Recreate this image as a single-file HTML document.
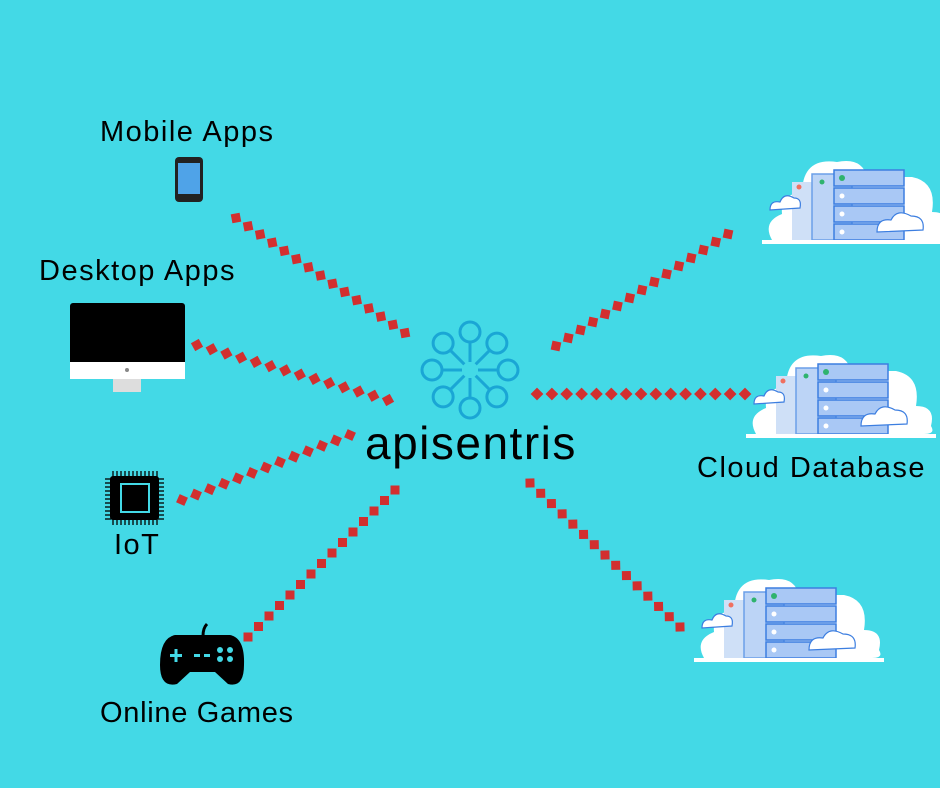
<!DOCTYPE html>
<html><head><meta charset="utf-8"><style>
html,body{margin:0;padding:0}
body{width:940px;height:788px;background:#43d9e6;position:relative;overflow:hidden;font-family:"Liberation Sans",sans-serif}
.l{position:absolute;color:#000;font-size:29px;letter-spacing:1.5px;white-space:nowrap}
</style></head><body>
<div class="l" style="left:100px;top:116px">Mobile Apps</div>
<div class="l" style="left:39px;top:255px">Desktop Apps</div>
<div class="l" style="left:114px;top:529px">IoT</div>
<div class="l" style="left:100px;top:697px;letter-spacing:0.7px">Online Games</div>
<div class="l" style="left:697px;top:452px">Cloud Database</div>
<div class="l" style="left:365px;top:416px;font-size:46px;letter-spacing:1.5px">apisentris</div>
<svg id="s" width="940" height="788" style="position:absolute;left:0;top:0" xmlns="http://www.w3.org/2000/svg">
<defs>
<g id="srv">
 <path d="M10 88 Q0 70 20 62 Q18 40 40 42 Q40 5 75 10 Q100 5 105 25 L150 25 Q175 30 170 60 Q190 60 185 80 Q190 88 178 88 Z" fill="#fff"/>
 <rect x="30" y="30" width="40" height="58" fill="#cfe0f7"/>
 <rect x="50" y="22" width="40" height="66" fill="#bcd4f6" stroke="#6b9fe8" stroke-width="1.5"/>
 <g fill="#a9c8f5" stroke="#3c7ee0" stroke-width="1.5">
  <rect x="72" y="18" width="70" height="16"/><rect x="72" y="36" width="70" height="16"/>
  <rect x="72" y="54" width="70" height="16"/><rect x="72" y="72" width="70" height="16"/>
 </g>
 <circle cx="80" cy="26" r="3" fill="#2fb36e"/><circle cx="60" cy="30" r="2.5" fill="#2fb36e"/><circle cx="37" cy="35" r="2.5" fill="#f07060"/>
 <g fill="#fff"><circle cx="80" cy="44" r="2.5"/><circle cx="80" cy="62" r="2.5"/><circle cx="80" cy="80" r="2.5"/></g>
 <path d="M8 58 q0-10 10-8 q4-10 14-4 q8 0 6 10 Z" fill="#fff" stroke="#3c7ee0" stroke-width="1.2"/>
 <path d="M115 80 q0-14 14-12 q6-12 20-4 q14 0 12 14 Z" fill="#fff" stroke="#3c7ee0" stroke-width="1.2"/>
 <rect x="0" y="88" width="190" height="4" fill="#fff"/>
</g>
</defs>
<use href="#srv" x="762" y="152"/>
<use href="#srv" x="746" y="346"/>
<use href="#srv" x="694" y="570"/>
<g fill="none" stroke="#1aa6d5" stroke-width="3" id="logo"></g>
<rect x="175" y="157" width="28" height="45" rx="4" fill="#222"/>
<rect x="178" y="163" width="22" height="31" fill="#4fa3e8"/>
<rect x="70" y="303" width="115" height="62" rx="3" fill="#000"/>
<rect x="70" y="362" width="115" height="17" fill="#fff"/>
<rect x="113" y="379" width="28" height="13" fill="#ddd"/>
<circle cx="127" cy="370" r="2" fill="#888"/>
<g stroke="#000" stroke-width="1.3" id="pins"></g>
<rect x="110" y="476" width="49" height="44" rx="3" fill="#000"/>
<rect x="121" y="484" width="28" height="28" fill="none" stroke="#43d9e6" stroke-width="2"/>
<path d="M203 636 q0-8 4-12" stroke="#000" stroke-width="3" fill="none"/>
<path d="M175 635 L230 635 Q245 638 244 665 Q244 688 228 684 L215 672 L190 672 L177 684 Q160 688 160 665 Q160 638 175 635 Z" fill="#000"/>
<g fill="#43d9e6"><rect x="170" y="654" width="12" height="3"/><rect x="174.5" y="649" width="3" height="13"/>
<rect x="194" y="654" width="6" height="3"/><rect x="204" y="654" width="6" height="3"/>
<circle cx="220" cy="650" r="3"/><circle cx="230" cy="650" r="3"/><circle cx="220" cy="659" r="3"/><circle cx="230" cy="659" r="3"/></g>
<g id="d" fill="#d22f2f"></g>
</svg>
<script>
var NS="http://www.w3.org/2000/svg",d=document.getElementById('d');
var L=[[236,218,405,333],[197,345,388,400],[182,500,350,435],[248,637,395,490],[556,346,728,234],[537,394,745,394],[530,483,680,627]];
L.forEach(function(l){var dx=l[2]-l[0],dy=l[3]-l[1],len=Math.hypot(dx,dy),n=Math.round(len/15),a=Math.atan2(dy,dx)*180/Math.PI;
for(var i=0;i<=n;i++){var x=l[0]+dx*i/n,y=l[1]+dy*i/n,r=document.createElementNS(NS,'rect');
r.setAttribute('x',-4.5);r.setAttribute('y',-4.5);r.setAttribute('width',9);r.setAttribute('height',9);
r.setAttribute('transform','translate('+x+','+y+') rotate('+(a+45)+')');d.appendChild(r);}});
var g=document.getElementById('logo'),cx=470,cy=370;
for(var k=0;k<8;k++){var t=k*Math.PI/4,c=document.createElementNS(NS,'circle');
c.setAttribute('cx',cx+38*Math.sin(t));c.setAttribute('cy',cy-38*Math.cos(t));c.setAttribute('r',10);g.appendChild(c);
var ln=document.createElementNS(NS,'line');ln.setAttribute('x1',cx+8*Math.sin(t));ln.setAttribute('y1',cy-8*Math.cos(t));
ln.setAttribute('x2',cx+28*Math.sin(t));ln.setAttribute('y2',cy-28*Math.cos(t));g.appendChild(ln);}
var p=document.getElementById('pins');
for(var i=0;i<12;i++){var x=113+i*4;[[x,471,x,477],[x,519,x,525]].forEach(function(q){var e=document.createElementNS(NS,'line');
e.setAttribute('x1',q[0]);e.setAttribute('y1',q[1]);e.setAttribute('x2',q[2]);e.setAttribute('y2',q[3]);p.appendChild(e);});}
for(var i=0;i<11;i++){var y=479+i*4;[[105,y,111,y],[158,y,164,y]].forEach(function(q){var e=document.createElementNS(NS,'line');
e.setAttribute('x1',q[0]);e.setAttribute('y1',q[1]);e.setAttribute('x2',q[2]);e.setAttribute('y2',q[3]);p.appendChild(e);});}
</script>
</body></html>
